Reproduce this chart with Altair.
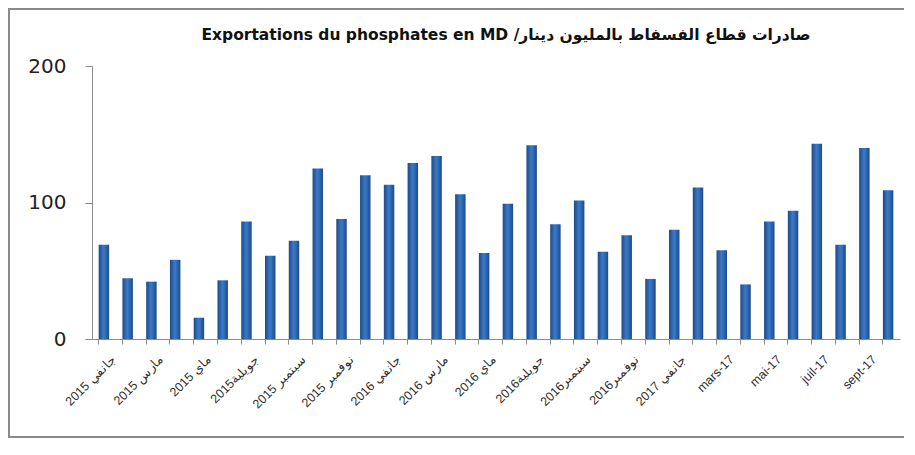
import json
import altair as alt
import pandas as pd

months = [
    "جانفي 2015", "فيفري 2015", "مارس 2015", "أفريل 2015", "ماي 2015", "جوان 2015",
    "جويلية2015", "أوت 2015", "سبتمبر 2015", "أكتوبر 2015", "نوفمبر 2015", "ديسمبر 2015",
    "جانفي 2016", "فيفري 2016", "مارس 2016", "أفريل 2016", "ماي 2016", "جوان 2016",
    "جويلية2016", "أوت 2016", "سبتمبر2016", "أكتوبر 2016", "نوفمبر2016", "ديسمبر 2016",
    "جانفي 2017", "févr-17", "mars-17", "avr-17", "mai-17", "juin-17",
    "juil-17", "août-17", "sept-17", "oct-17",
]
values = [69, 44.5, 42, 58, 15.6, 43, 86, 61, 72, 125, 88, 120,
          113, 129, 134, 106, 63, 99, 142, 84, 101.5, 64, 76, 44,
          80, 111, 65, 40, 86, 94, 143, 69, 140, 109]
y_ticks = [0, 100, 200]
title_text = "Exportations du phosphates en MD /صادرات قطاع الفسفاط بالمليون دينار"

df = pd.DataFrame({"i": list(range(len(months))), "month": months, "value": values})

W, H = 808, 273
label_expr = "datum.value % 2 == 0 ? " + json.dumps(months, ensure_ascii=False) + "[datum.value] : ''"

bar_fill = alt.Gradient(
    gradient="linear",
    stops=[
        alt.GradientStop(color="#1d4a86", offset=0),
        alt.GradientStop(color="#3b78c6", offset=0.45),
        alt.GradientStop(color="#3370bd", offset=0.6),
        alt.GradientStop(color="#1d4a86", offset=1),
    ],
    x1=0, x2=1, y1=0, y2=0,
)

bars = alt.Chart(df).mark_bar(color=bar_fill).encode(
    x=alt.X(
        "i:O",
        title=None,
        scale=alt.Scale(paddingInner=0.56, paddingOuter=0.28),
        axis=alt.Axis(
            labelExpr=label_expr,
            labelAngle=-45,
            labelAlign="right",
            labelBaseline="middle",
            labelFont="Liberation Sans",
            labelFontSize=12.5,
            labelColor="#303030",
            labelPadding=13,
            labelOffset=10,
            bandPosition=0,
            tickSize=5,
            tickColor="#8c8c8c",
            domainColor="#8c8c8c",
            labelOverlap=False,
            labelFlush=False,
        ),
    ),
    y=alt.Y(
        "value:Q",
        title=None,
        scale=alt.Scale(domain=[0, 200]),
        axis=alt.Axis(
            values=y_ticks,
            grid=False,
            tickSize=7,
            tickColor="#8c8c8c",
            domainColor="#8c8c8c",
            labelFont="DejaVu Sans",
            labelFontSize=20,
            labelColor="#222222",
            labelPadding=19,
        ),
    ),
)

frame = alt.Chart(alt.Data(values=[{}])).mark_rect(
    fill=None, stroke="#8a8a8a", strokeWidth=2
).encode(
    x=alt.value(-83), x2=alt.value(W + 40), y=alt.value(-57), y2=alt.value(371)
)

title = alt.Chart(alt.Data(values=[{"t": title_text}])).mark_text(
    font="DejaVu Sans",
    fontSize=15.5,
    fontWeight="bold",
    color="#111111",
    align="center",
    baseline="middle",
).encode(
    text="t:N", x=alt.value(W / 2 + 10), y=alt.value(-31)
)

chart = alt.layer(frame, title, bars).properties(
    width=W,
    height=H,
    background="white",
    autosize=alt.AutoSizeParams(type="none"),
    padding={"left": 84, "top": 58, "right": 4, "bottom": 100},
).configure_view(stroke=None)

chart.save("out.html", embed_options={"renderer": "svg", "actions": False})
